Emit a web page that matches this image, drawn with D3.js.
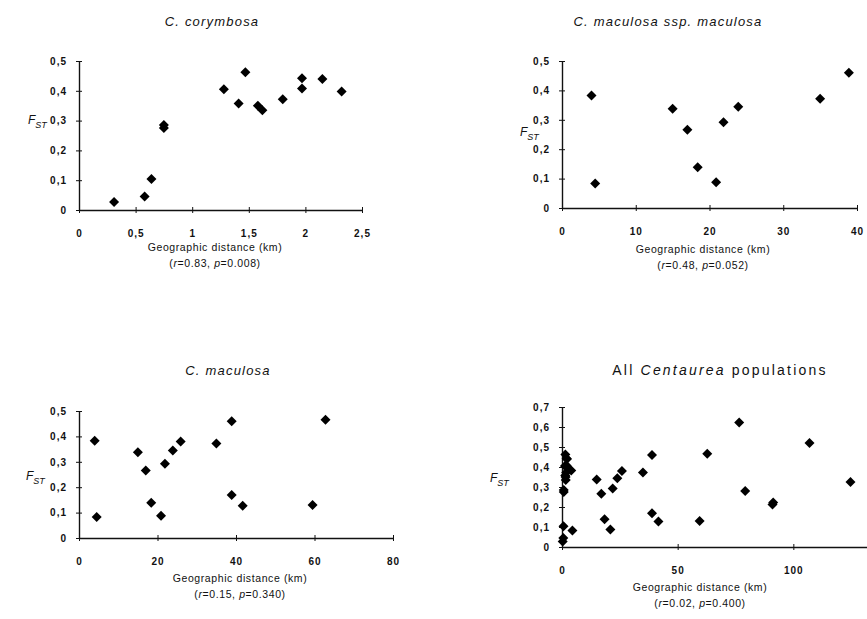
<!DOCTYPE html>
<html>
<head>
<meta charset="utf-8">
<script src="https://cdn.jsdelivr.net/npm/d3@7"></script>
<style>
  body { margin: 0; background: #fff; }
  svg text { font-family: "Liberation Sans", Arial, sans-serif; fill: #111; }
  .tick text { font-size: 10px; font-weight: bold; letter-spacing: 1px; }
  .title { font-size: 13px; letter-spacing: 1.2px; }
  .title.big { font-size: 14px; letter-spacing: 2.2px; }
  .axtitle { font-size: 10.5px; letter-spacing: 0.6px; }
</style>
</head>
<body>
<div id="chart"></div>
<script>
// C. corymbosa (km)
const corymbosaDist = [0.31, 0.58, 0.64, 0.75, 0.75, 1.28, 1.41, 1.47, 1.58, 1.62, 1.80, 1.97, 1.97, 2.15, 2.32];
const corymbosaFst  = [0.027, 0.045, 0.104, 0.285, 0.275, 0.405, 0.357, 0.462, 0.35, 0.335, 0.372, 0.442, 0.408, 0.44, 0.398];

// C. maculosa ssp. maculosa
const macMacDist = [4.0, 4.5, 15.0, 17.0, 18.4, 20.9, 21.9, 23.9, 35.0, 38.9];
const macMacFst  = [0.383, 0.083, 0.338, 0.266, 0.139, 0.088, 0.292, 0.344, 0.372, 0.46];

// the other C. maculosa pairs
const macOtherDist = [25.9, 38.9, 41.7, 59.5, 62.8];
const macOtherFst  = [0.38, 0.169, 0.127, 0.13, 0.466];

// pairs across the groups, only in the last panel
const crossDist = [76.6, 79.2, 91.3, 91.0, 107.0, 124.7];
const crossFst  = [0.622, 0.28, 0.222, 0.212, 0.52, 0.325];

const maculosaDist = macMacDist.concat(macOtherDist);
const maculosaFst  = macMacFst.concat(macOtherFst);
const allDist = corymbosaDist.concat(maculosaDist, crossDist);
const allFst  = corymbosaFst.concat(maculosaFst, crossFst);

const xTicks1 = [0, 0.5, 1, 1.5, 2, 2.5];
const xTicks2 = [0, 10, 20, 30, 40];
const xTicks3 = [0, 20, 40, 60, 80];
const xTicks4 = [0, 50, 100];
const yTicksA = [0, 0.1, 0.2, 0.3, 0.4, 0.5];
const yTicksB = [0, 0.1, 0.2, 0.3, 0.4, 0.5, 0.6, 0.7];

const stats = [["0.83", "0.008"], ["0.48", "0.052"], ["0.15", "0.340"], ["0.02", "0.400"]];

const width = 867, height = 619;
const svg = d3.select("#chart").append("svg")
  .attr("width", width)
  .attr("height", height);

const comma = d => d === 0 ? "0" : String(d).replace(".", ",");

function panel(p) {
  const xScale = d3.scaleLinear().domain(p.xDomain).range(p.xRange);
  const yScale = d3.scaleLinear().domain(p.yDomain).range(p.yRange);
  const g = svg.append("g");

  // title
  const t = g.append("text").attr("class", p.big ? "title big" : "title")
     .attr("x", p.titleX).attr("y", p.titleY).attr("text-anchor", "middle");
  p.title.forEach(s => t.append("tspan").attr("font-style", s[1] ? "italic" : null).text(s[0]));

  const yAxis = d3.axisLeft(yScale).tickValues(p.yTicks).tickFormat(comma)
    .tickSizeInner(6).tickSizeOuter(0).tickPadding(6);
  const ya = g.append("g").attr("transform", `translate(${xScale(0)},0)`).call(yAxis);
  ya.selectAll(".tick line").attr("transform", "translate(3,0)");

  const xAxis = d3.axisBottom(xScale).tickValues(p.xTicks).tickFormat(comma)
    .tickSizeInner(6).tickSizeOuter(0).tickPadding(14);
  const xa = g.append("g").attr("transform", `translate(0,${yScale(0)})`).call(xAxis);
  xa.selectAll(".tick line").attr("transform", "translate(0,-3)");

  g.selectAll(".domain").attr("stroke", "#111").attr("stroke-width", 1.4);
  g.selectAll(".tick line").attr("stroke", "#111");

  // F_ST
  const f = g.append("text").attr("x", p.fstX).attr("y", p.fstY).attr("font-size", 12);
  f.append("tspan").attr("font-style", "italic").text("F");
  f.append("tspan").attr("font-style", "italic").attr("font-size", 9).attr("dy", 4).text("ST");

  // axis title
  g.append("text").attr("class", "axtitle").attr("text-anchor", "middle")
    .attr("x", p.axX).attr("y", p.axY).text("Geographic distance (km)");
  const s = g.append("text").attr("class", "axtitle").attr("text-anchor", "middle")
    .attr("x", p.axX).attr("y", p.axY + 16);
  s.append("tspan").text("(");
  s.append("tspan").attr("font-style", "italic").text("r");
  s.append("tspan").text("=" + p.stat[0] + ", ");
  s.append("tspan").attr("font-style", "italic").text("p");
  s.append("tspan").text("=" + p.stat[1] + ")");

  const pts = p.dist.map((d, i) => [d, p.fst[i]]);
  g.selectAll("path.pt").data(pts).enter().append("path")
    .attr("class", "pt")
    .attr("d", d3.symbol(d3.symbolSquare, 50))
    .attr("transform", d => `translate(${xScale(d[0])},${yScale(d[1])}) rotate(45)`)
    .attr("fill", "#000");
}

panel({ title: [["C. corymbosa", true]], titleX: 212, titleY: 26,
  xDomain: [0, 2.5], xRange: [79, 362], yDomain: [0, 0.5], yRange: [210, 61],
  xTicks: xTicks1, yTicks: yTicksA, fstX: 28, fstY: 124,
  axX: 215, axY: 251, stat: stats[0], dist: corymbosaDist, fst: corymbosaFst });

panel({ title: [["C. maculosa ssp. maculosa", true]], titleX: 668, titleY: 26,
  xDomain: [0, 40], xRange: [562, 857], yDomain: [0, 0.5], yRange: [208, 61],
  xTicks: xTicks2, yTicks: yTicksA, fstX: 520, fstY: 136,
  axX: 703, axY: 253, stat: stats[1], dist: macMacDist, fst: macMacFst });

panel({ title: [["C. maculosa", true]], titleX: 228, titleY: 375,
  xDomain: [0, 80], xRange: [79, 393], yDomain: [0, 0.5], yRange: [538, 411],
  xTicks: xTicks3, yTicks: yTicksA, fstX: 26, fstY: 480,
  axX: 240, axY: 582, stat: stats[2], dist: maculosaDist, fst: maculosaFst });

panel({ title: [["All ", false], ["Centaurea", true], [" populations", false]], big: true,
  titleX: 720, titleY: 375,
  xDomain: [0, 150], xRange: [562, 909], yDomain: [0, 0.7], yRange: [547, 407],
  xTicks: xTicks4, yTicks: yTicksB, fstX: 490, fstY: 482,
  axX: 700, axY: 591, stat: stats[3], dist: allDist, fst: allFst });
</script>
</body>
</html>
